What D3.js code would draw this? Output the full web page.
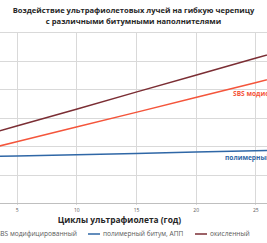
<!DOCTYPE html>
<html>
<head>
<meta charset="utf-8">
<script src="https://cdn.jsdelivr.net/npm/d3@7"></script>
<style>
  body { margin: 0; background: #fff; }
  text { font-family: "Open Sans", sans-serif; }
</style>
</head>
<body>
<script>
var width = 267;
var height = 243;

// циклы (годы)
var cycles = [0, 5, 10, 15, 20, 25, 30];
var xTicks = [5, 10, 15, 20, 25];
var yTicks = [0, 10, 20, 30, 40, 50, 60];

// значения
var sbsValues = [16.3, 21.5, 26.7, 31.8, 37.0, 42.2, 47.4];
var appValues = [16.0, 16.5, 16.9, 17.4, 17.9, 18.3, 18.8];
var oxValues = [21.0, 27.0, 32.9, 38.9, 44.8, 50.8, 56.7];

var seriesNames = ["SBS модифицированный", "полимерный битум, АПП", "окисленный"];
var seriesColors = ["#f4553b", "#2f67a6", "#7b2e34"];

var titleLines = ["Воздействие ультрафиолетовых лучей на гибкую черепицу",
                  "с различными битумными наполнителями"];

var svg = d3.select("body").append("svg")
    .attr("width", width)
    .attr("height", height);

// plot area: left part of the chart is cut off in the reference
var x = d3.scaleLinear().domain([5, 25]).range([16.7, 255.3]);
var y = d3.scaleLinear().domain([0, 60]).range([203, 32]);

svg.append("defs").append("clipPath").attr("id", "plot")
  .append("rect").attr("x", 0).attr("y", 31).attr("width", width).attr("height", 173);

// horizontal grid
svg.append("g").selectAll("line")
    .data(yTicks.slice(1))
    .enter().append("line")
    .attr("x1", 0).attr("x2", width)
    .attr("y1", function(d) { return Math.round(y(d)) + 0.5; })
    .attr("y2", function(d) { return Math.round(y(d)) + 0.5; })
    .attr("stroke", "#d9d9d9").attr("stroke-width", 1);

// vertical grid
svg.append("g").selectAll("line")
    .data(xTicks)
    .enter().append("line")
    .attr("x1", function(d) { return Math.round(x(d)) + 0.5; })
    .attr("x2", function(d) { return Math.round(x(d)) + 0.5; })
    .attr("y1", y(60)).attr("y2", y(0) + 2)
    .attr("stroke", "#d9d9d9").attr("stroke-width", 1);

// x axis
var xAxis = svg.append("g")
    .attr("transform", "translate(0," + (Math.round(y(0)) + 0.5) + ")")
    .call(d3.axisBottom(x).tickValues(xTicks).tickSize(0).tickPadding(5));
xAxis.select(".domain").attr("d", "M0,0H" + width).attr("stroke", "#bfbfbf");
xAxis.selectAll("text")
    .attr("font-family", "Open Sans, sans-serif")
    .attr("font-size", "5px")
    .attr("fill", "#595959");

// lines
var line = d3.line()
    .x(function(d, i) { return x(cycles[i]); })
    .y(function(d) { return y(d); });

var allSeries = [sbsValues, appValues, oxValues];
svg.append("g").attr("clip-path", "url(#plot)")
  .selectAll("path")
    .data(allSeries)
    .enter().append("path")
    .attr("d", function(d) { return line(d); })
    .attr("fill", "none")
    .attr("stroke", function(d, i) { return seriesColors[i]; })
    .attr("stroke-width", 1.5);

// data labels
svg.append("text")
    .attr("x", 233).attr("y", 96)
    .attr("font-size", "6.6px").attr("font-weight", "bold")
    .attr("fill", seriesColors[0])
    .text(seriesNames[0]);
svg.append("text")
    .attr("x", 225).attr("y", 160)
    .attr("font-size", "6.6px").attr("font-weight", "bold")
    .attr("fill", seriesColors[1])
    .text(seriesNames[1]);

// title
svg.append("g").selectAll("text")
    .data(titleLines)
    .enter().append("text")
    .attr("x", 133.5)
    .attr("y", function(d, i) { return 13 + i * 10.8; })
    .attr("text-anchor", "middle")
    .attr("font-size", "7.6px").attr("font-weight", "bold")
    .attr("fill", "#262626")
    .text(function(d) { return d; });

// axis title
svg.append("text")
    .attr("x", 119.5).attr("y", 222.5)
    .attr("text-anchor", "middle")
    .attr("font-size", "8.4px").attr("font-weight", "bold")
    .attr("fill", "#262626")
    .text("Циклы ультрафиолета (год)");

// legend
var legendX = [-24, 88, 195];
var legend = svg.append("g").selectAll("g")
    .data(seriesNames)
    .enter().append("g")
    .attr("transform", function(d, i) { return "translate(" + legendX[i] + ",234)"; });
legend.append("line")
    .attr("x1", 0).attr("x2", 12)
    .attr("stroke", function(d, i) { return seriesColors[i]; })
    .attr("stroke-width", 1.5);
legend.append("text")
    .attr("x", 15).attr("y", 2.3)
    .attr("font-size", "6.6px")
    .attr("fill", "#595959")
    .text(function(d) { return d; });
legend.filter(function(d, i) { return i === 0; }).select("text")
    .attr("text-anchor", "end").attr("x", 101);
</script>
</body>
</html>
